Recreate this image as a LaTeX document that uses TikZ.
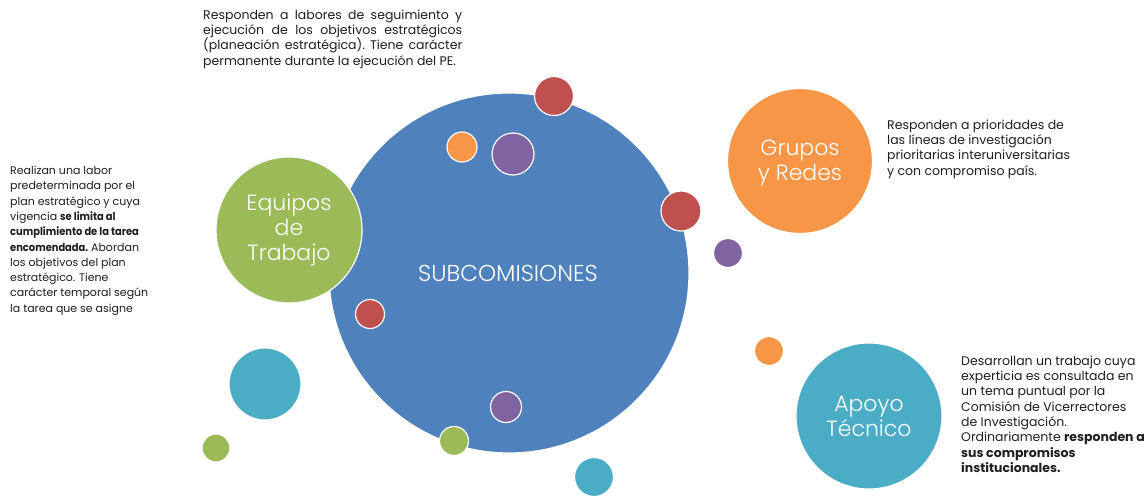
\documentclass[tikz,border=0pt]{standalone}
\usepackage{fontspec}
\usepackage{graphicx}
\setmainfont{Poppins}
\IfFontExistsTF{Poppins Light}{\newfontfamily\thinfont{Poppins Light}}{\newfontfamily\thinfont{Poppins}}
\newcommand\nbold[1]{\scalebox{0.9}[1]{\bfseries #1}}
\definecolor{cblue}{HTML}{4F81BD}
\definecolor{cgreen}{HTML}{9BBB59}
\definecolor{corange}{HTML}{F79646}
\definecolor{cteal}{HTML}{4BACC6}
\definecolor{cred}{HTML}{C0504D}
\definecolor{cpurple}{HTML}{8064A2}
\definecolor{txt}{HTML}{1E1E1E}
\begin{document}
\begin{tikzpicture}[x=1pt,y=-1pt,
  bubble/.style={circle, draw=white, line width=1.2pt, inner sep=0pt},
  desc/.style={anchor=north west, inner sep=0pt, text=txt, align=left, font=\fontsize{12.5}{15.3}\selectfont\frenchspacing},
  biglabel/.style={text=white, align=center, font=\thinfont\fontsize{22}{25}\selectfont}]
\useasboundingbox (0,0) rectangle (1145,495);
% main bubbles
\node[bubble, fill=cblue, minimum size=360pt] (sub) at (509,273) {};
\node[biglabel, font=\thinfont\fontsize{20}{24}\selectfont] (subt) at (508,273) {\scalebox{1.15}{SUBCOMISIONES}};
\node[bubble, fill=cgreen, minimum size=146pt] (eq) at (289,230) {};
\node[biglabel] (eqt) at (289,230) {Equipos\\d\kern0.01pt e\\Trabajo};
\node[bubble, fill=corange, minimum size=145pt] (gr) at (800,161) {};
\node[biglabel] (grt) at (800,163) {Grupos\\y Redes};
\node[bubble, fill=cteal, minimum size=146pt] (ap) at (869,416) {};
\node[biglabel] (apt) at (869,416) {Apoyo\\Técnico};
% small bubbles
\node[bubble, fill=cred, minimum size=39pt] (r1) at (554,96) {};
\node[bubble, fill=corange, minimum size=30pt] (o1) at (462,147) {};
\node[bubble, fill=cpurple, minimum size=42pt] (p1) at (513,154) {};
\node[bubble, fill=cred, minimum size=40pt] (r2) at (681,211) {};
\node[bubble, fill=cred, minimum size=29pt] (r3) at (370,314) {};
\node[bubble, fill=cteal, minimum size=72pt] (t1) at (265,384) {};
\node[bubble, fill=cgreen, minimum size=28pt] (g1) at (216,448) {};
\node[bubble, fill=cpurple, minimum size=31pt] (p2) at (506,407) {};
\node[bubble, fill=cgreen, minimum size=29pt] (g2) at (454,441) {};
\node[bubble, fill=cteal, minimum size=39pt] (t2) at (594,477) {};
\node[bubble, fill=cpurple, minimum size=29pt] (p3) at (728,253) {};
\node[bubble, fill=corange, minimum size=29pt] (o2) at (769,351) {};
% descriptions
\node[desc] (dtop) at (203,9.5) {\makebox[259pt][s]{Responden a labores de seguimiento y}\\
\makebox[259pt][s]{ejecución de los objetivos estratégicos}\\
\makebox[259pt][s]{(planeación estratégica). Tiene carácter}\\
permanente durante la ejecución del PE.};
\node[desc, font=\fontsize{11}{15.3}\selectfont] (dleft) at (10,166) {Realizan una labor\\
predeterminada por el\\
plan estratégico y cuya\\
vigencia \nbold{se limita al}\\
\nbold{cumplimiento de la tarea}\\
\nbold{encomendada.} Abordan\\
los objetivos del plan\\
estratégico. Tiene\\
carácter temporal según\\
la tarea que se asigne};
\node[desc] (dgr) at (887,119.5) {Responden a prioridades de\\
las líneas de investigación\\
prioritarias interuniversitarias\\
y con compromiso país.};
\node[desc] (dap) at (961,355.5) {Desarrollan un trabajo cuya\\
experticia es consultada en\\
un tema puntual por la\\
Comisión de Vicerrectores\\
de Investigación.\\
Ordinariamente \textbf{responden a}\\
\textbf{sus compromisos}\\
\textbf{institucionales.}};
\end{tikzpicture}
\end{document}
